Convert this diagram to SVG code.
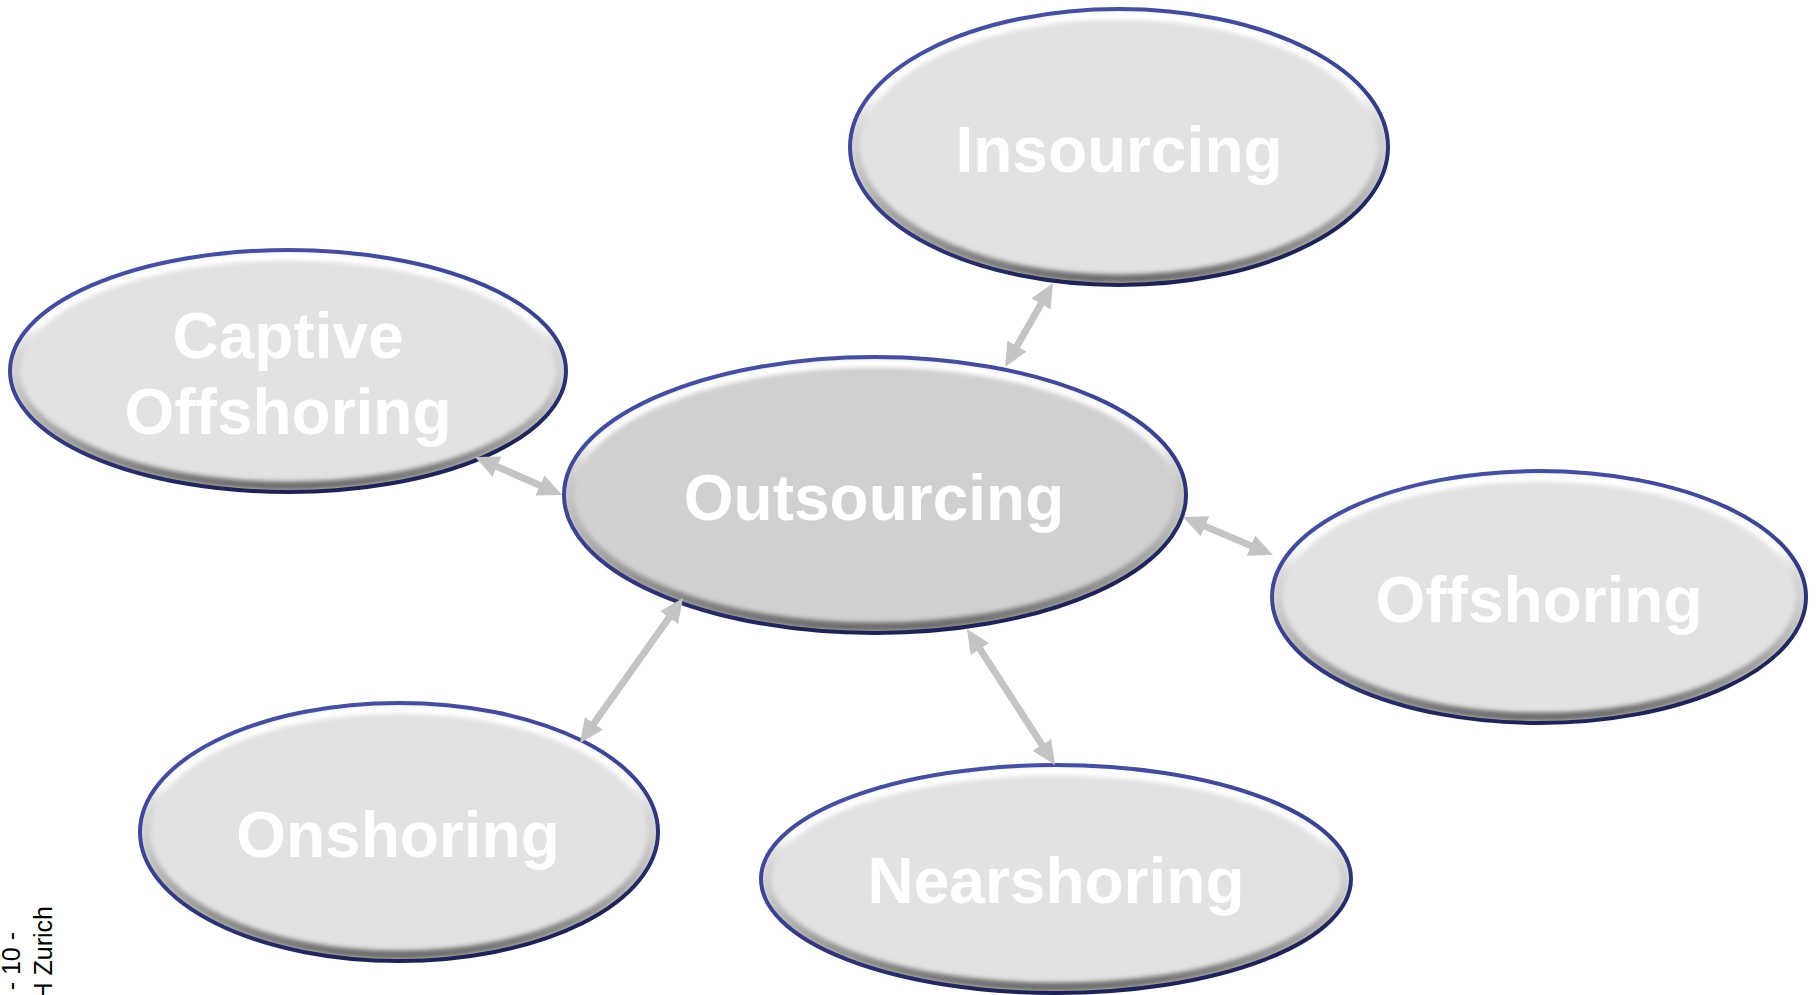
<svg xmlns="http://www.w3.org/2000/svg" width="1819" height="995" viewBox="0 0 1819 995">
<defs>
<style>
.fill{fill:#e2e2e2}
.fill.main{fill:#d0d0d0}
.bevel{fill:none;stroke:url(#bevelGrad);stroke-width:9;filter:url(#soft)}
.rim{fill:none;stroke:url(#rimGrad);stroke-width:4}
.lbl{font-family:"Liberation Sans",Arial,sans-serif;font-weight:bold;font-size:64px;fill:#ffffff;text-anchor:middle}
.conn{stroke:#c4c4c4;stroke-width:7;fill:none;marker-start:url(#head);marker-end:url(#head)}
.foot{font-family:"Liberation Sans",Arial,sans-serif;font-size:25px;fill:#000000;text-anchor:end}
</style>
<linearGradient id="bevelGrad" x1="0" y1="0" x2="0" y2="1">
<stop offset="0" stop-color="#ffffff" stop-opacity="1"/>
<stop offset="0.3" stop-color="#ffffff" stop-opacity="0.9"/>
<stop offset="0.5" stop-color="#b0b0b0" stop-opacity="0.35"/>
<stop offset="0.75" stop-color="#8a8a8a" stop-opacity="0.7"/>
<stop offset="1" stop-color="#666666" stop-opacity="0.95"/>
</linearGradient>
<linearGradient id="rimGrad" x1="0" y1="0" x2="0.4" y2="1">
<stop offset="0" stop-color="#4b53a5"/>
<stop offset="0.55" stop-color="#3c4391"/>
<stop offset="1" stop-color="#1e2254"/>
</linearGradient>
<filter id="soft" x="-5%" y="-5%" width="110%" height="110%"><feGaussianBlur stdDeviation="2"/></filter>
<marker id="head" viewBox="0 0 24 22" refX="14" refY="11" markerWidth="24" markerHeight="22" markerUnits="userSpaceOnUse" orient="auto-start-reverse"><path d="M0,0 L24,11 L0,22 z" fill="#c4c4c4"/></marker>
</defs>
<rect width="1819" height="995" fill="#ffffff"/>

<g id="insourcing">
<ellipse class="fill" cx="1119" cy="147" rx="269" ry="138"/>
<ellipse class="bevel" cx="1119" cy="147" rx="263" ry="132"/>
<ellipse class="rim" cx="1119" cy="147" rx="269" ry="138"/>
<text class="lbl" x="1119" y="172">Insourcing</text>
</g>

<g id="captive-offshoring">
<ellipse class="fill" cx="288" cy="371" rx="278" ry="121"/>
<ellipse class="bevel" cx="288" cy="371" rx="272" ry="115"/>
<ellipse class="rim" cx="288" cy="371" rx="278" ry="121"/>
<text class="lbl" x="288" y="358">Captive</text>
<text class="lbl" x="288" y="434">Offshoring</text>
</g>

<g id="outsourcing">
<ellipse class="fill main" cx="875" cy="495" rx="311" ry="138"/>
<ellipse class="bevel" cx="875" cy="495" rx="305" ry="132"/>
<ellipse class="rim" cx="875" cy="495" rx="311" ry="138"/>
<text class="lbl" x="874" y="520">Outsourcing</text>
</g>

<g id="offshoring">
<ellipse class="fill" cx="1539" cy="597" rx="267" ry="126"/>
<ellipse class="bevel" cx="1539" cy="597" rx="261" ry="120"/>
<ellipse class="rim" cx="1539" cy="597" rx="267" ry="126"/>
<text class="lbl" x="1539" y="622">Offshoring</text>
</g>

<g id="onshoring">
<ellipse class="fill" cx="399" cy="832" rx="259" ry="129"/>
<ellipse class="bevel" cx="399" cy="832" rx="253" ry="123"/>
<ellipse class="rim" cx="399" cy="832" rx="259" ry="129"/>
<text class="lbl" x="398" y="857">Onshoring</text>
</g>

<g id="nearshoring">
<ellipse class="fill" cx="1056" cy="879" rx="295" ry="114"/>
<ellipse class="bevel" cx="1056" cy="879" rx="289" ry="108"/>
<ellipse class="rim" cx="1056" cy="879" rx="295" ry="114"/>
<text class="lbl" x="1056" y="903">Nearshoring</text>
</g>

<g id="connectors">
<line class="conn" x1="1048" y1="291.7" x2="1010" y2="358.3"/>
<line class="conn" x1="484.2" y1="461" x2="552.8" y2="491"/>
<line class="conn" x1="1192.2" y1="520.9" x2="1263.8" y2="551.1"/>
<line class="conn" x1="677.2" y1="606.2" x2="585.8" y2="734.8"/>
<line class="conn" x1="972.4" y1="637.4" x2="1049.6" y2="756.6"/>
</g>

<g id="footer">
<text class="foot" transform="translate(20,932) rotate(-90)">- 10 -</text>
<text class="foot" transform="translate(52,906) rotate(-90)">H Zurich</text>
</g>
</svg>
